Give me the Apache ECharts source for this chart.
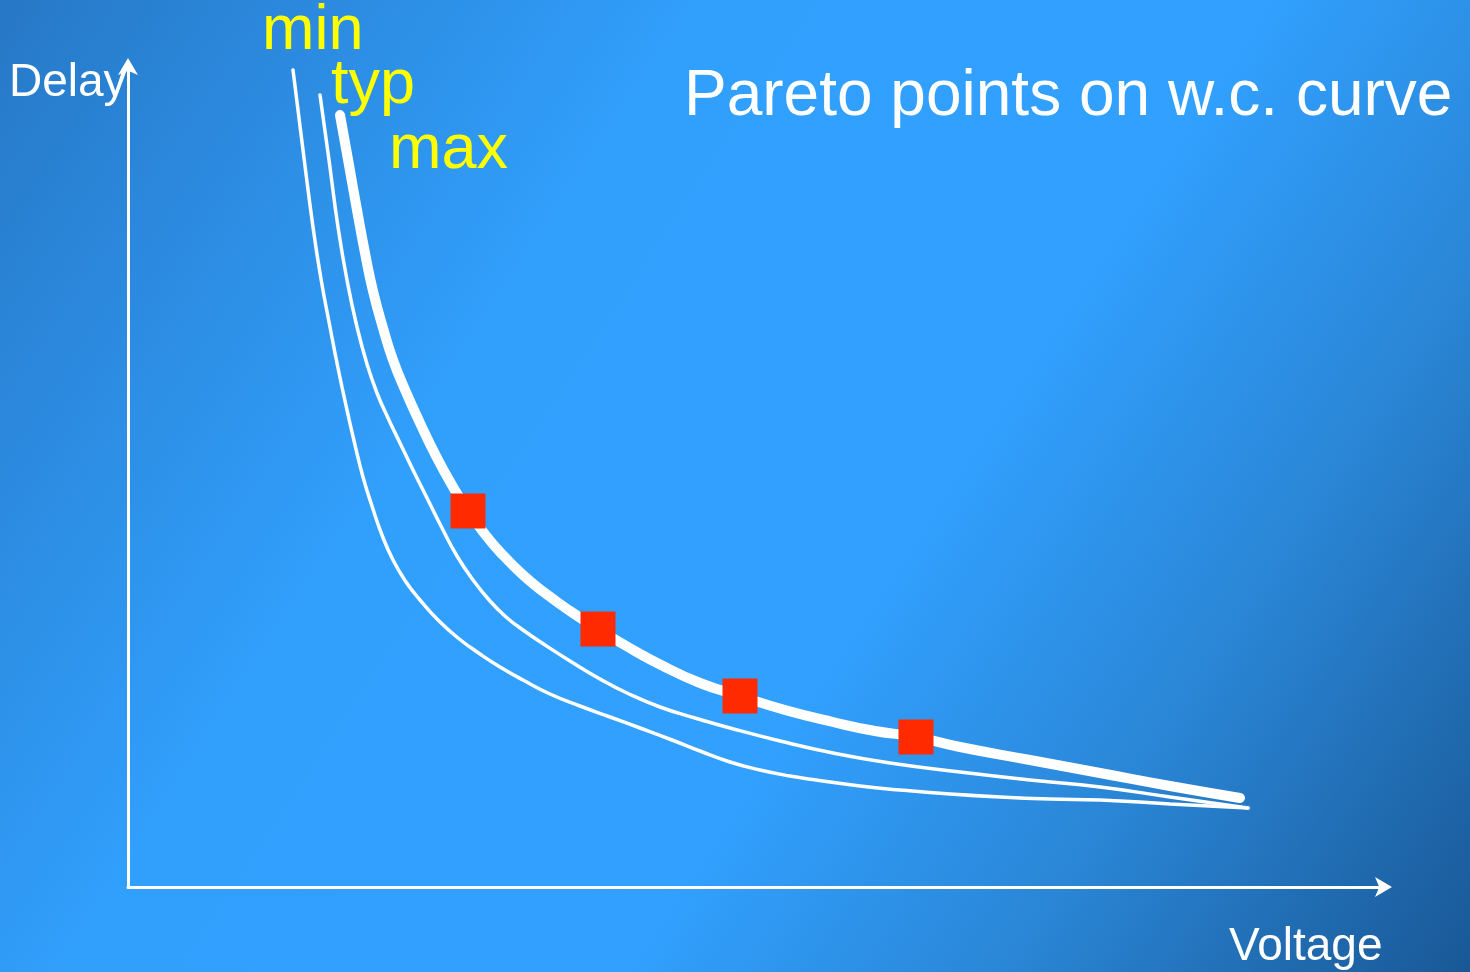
<!DOCTYPE html>
<html>
<head>
<meta charset="utf-8">
<title>Pareto points on w.c. curve</title>
<script src="https://cdn.jsdelivr.net/npm/echarts@6/dist/echarts.min.js"></script>
<style>
  html, body { margin: 0; padding: 0; width: 100%; height: 100%; overflow: hidden; }
  #chart { width: 1470px; height: 972px; }
</style>
</head>
<body>
<div id="chart"></div>
<script>
// Delay versus voltage for the three process corners (arbitrary units)
const minCurve = [
  [16.5, 81.7], [17.5, 73.7], [18.5, 66.0], [19.3, 60.8], [20.2, 56.0],
  [21.0, 51.9], [21.9, 47.7], [22.7, 44.2], [23.5, 41.0], [24.4, 38.1],
  [25.4, 35.2], [26.5, 32.7], [27.8, 30.5], [29.2, 28.7], [31.0, 26.7],
  [33.0, 24.9], [35.2, 23.3], [37.2, 22.0], [39.5, 20.7], [42.2, 19.3],
  [45.2, 18.1], [48.2, 17.0], [51.2, 15.9], [54.4, 14.7], [57.2, 13.6],
  [60.2, 12.5], [63.2, 11.7], [66.2, 11.1], [68.8, 10.7], [73.2, 10.1],
  [77.2, 9.7], [82.2, 9.3], [87.2, 9.0], [92.2, 8.8], [97.2, 8.7],
  [104.2, 8.3], [112.0, 7.9]
];
const typCurve = [
  [19.2, 79.2], [20.1, 72.7], [21.0, 66.0], [21.9, 60.7], [22.9, 56.0],
  [23.9, 52.3], [24.9, 49.4], [26.0, 46.9], [27.2, 44.4], [28.6, 41.5],
  [30.0, 38.7], [31.4, 35.9], [32.9, 33.1], [34.5, 30.7], [36.2, 28.6],
  [37.8, 27.0], [39.5, 25.7], [41.7, 24.2], [44.2, 22.6], [47.2, 20.8],
  [49.9, 19.4], [53.2, 18.0], [56.7, 16.9], [60.2, 15.9], [65.2, 14.6],
  [70.5, 13.4], [76.2, 12.4], [83.2, 11.5], [90.2, 10.7], [97.2, 10.0],
  [104.2, 9.0], [112.0, 7.9]
];
const maxCurve = [
  [21.2, 77.2], [22.1, 72.2], [22.9, 67.7], [23.7, 63.4], [24.5, 59.6],
  [25.5, 55.9], [26.5, 52.7], [27.8, 49.5], [29.2, 46.4], [30.8, 43.1],
  [32.5, 40.0], [34.0, 37.6], [35.6, 35.4], [37.2, 33.5], [39.5, 31.2],
  [41.7, 29.4], [44.2, 27.6], [47.0, 25.8], [50.0, 24.0], [53.3, 22.2],
  [57.2, 20.4], [61.2, 19.1], [65.7, 17.7], [70.5, 16.5], [74.7, 15.6],
  [78.8, 15.0], [83.2, 14.0], [90.2, 12.7], [97.2, 11.4], [104.2, 10.1],
  [111.2, 8.9]
];
// Pareto points picked on the worst-case (max) curve
const paretoPoints = [
  [34.0, 37.6], [47.0, 25.8], [61.2, 19.1], [78.8, 15.0]
];

const titleText = 'Pareto points on w.c. curve';
const yAxisName = 'Delay';
const xAxisName = 'Voltage';
const cornerNames = ['min', 'typ', 'max'];

const FONT = '"Liberation Sans", Arial, sans-serif';
const chart = echarts.init(document.getElementById('chart'), null, { renderer: 'canvas' });

function text(str, x, baseline, size, color) {
  return {
    type: 'text',
    z: 10,
    silent: true,
    style: {
      text: str,
      x: x,
      y: baseline - 0.3465 * size,
      font: size + 'px ' + FONT,
      fill: color,
      align: 'left',
      verticalAlign: 'middle'
    }
  };
}

const curveLine = (name, data, width) => ({
  name: name,
  type: 'line',
  data: data,
  smooth: 0.5,
  showSymbol: false,
  symbol: 'none',
  silent: true,
  lineStyle: { color: '#ffffff', width: width, cap: 'round', join: 'round' },
  z: 3
});

const axisLine = {
  show: true,
  onZero: false,
  symbol: ['none', 'arrow'],
  symbolSize: [15, 17],
  symbolOffset: [0, 8],
  lineStyle: { color: '#ffffff', width: 3 }
};

chart.setOption({
  animation: false,
  graphic: [
    {
      type: 'rect',
      z: -100,
      silent: true,
      shape: { x: 0, y: 0, width: 1470, height: 972 },
      style: {
        fill: new echarts.graphic.LinearGradient(0, 0, 1, 1, [
          { offset: 0, color: '#2778c6' },
          { offset: 0.34, color: '#31a0fd' },
          { offset: 0.6, color: '#31a0fe' },
          { offset: 0.78, color: '#2a86d6' },
          { offset: 1, color: '#195896' }
        ])
      }
    },
    text(titleText, 684, 120, 64, '#ffffff'),
    text(yAxisName, 9, 99, 46, '#ffffff'),
    text(xAxisName, 1229, 963, 46, '#ffffff'),
    text(cornerNames[0], 262, 53, 63, '#ffff00'),
    text(cornerNames[1], 331, 107, 63, '#ffff00'),
    text(cornerNames[2], 389, 172, 63, '#ffff00')
  ],
  grid: { left: 128, right: 86, top: 66, bottom: 85, containLabel: false },
  xAxis: {
    type: 'value', min: 0, max: 125.6,
    axisLine: axisLine,
    axisTick: { show: false }, axisLabel: { show: false }, splitLine: { show: false }
  },
  yAxis: {
    type: 'value', min: 0, max: 82.1,
    axisLine: axisLine,
    axisTick: { show: false }, axisLabel: { show: false }, splitLine: { show: false }
  },
  series: [
    curveLine('min', minCurve, 3.5),
    curveLine('typ', typCurve, 3.5),
    curveLine('max', maxCurve, 10),
    {
      name: 'Pareto',
      type: 'scatter',
      data: paretoPoints,
      symbol: 'rect',
      symbolSize: 35,
      silent: true,
      itemStyle: { color: '#ff2a00', opacity: 1 },
      z: 5
    }
  ]
});
</script>
</body>
</html>
